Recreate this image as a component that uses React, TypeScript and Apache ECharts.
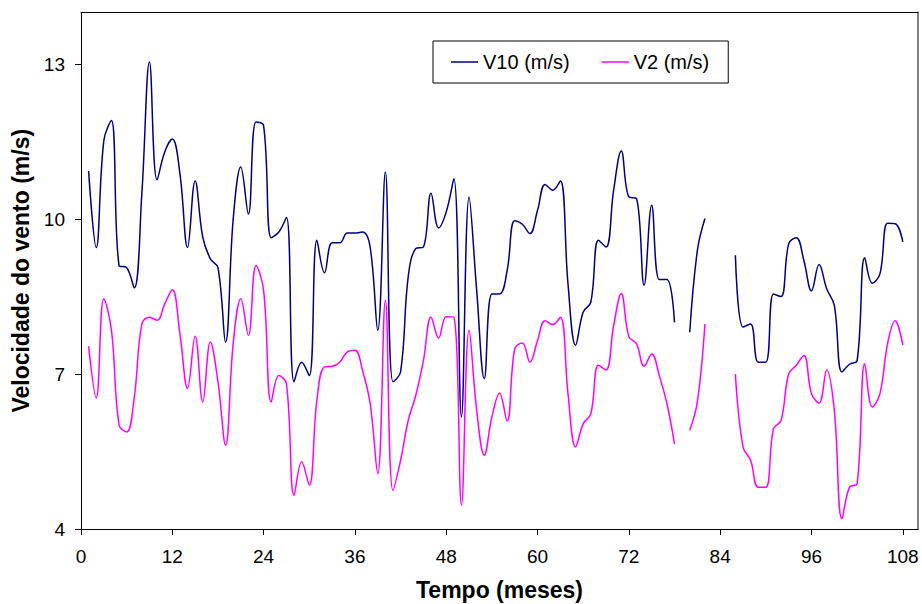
import React, { useEffect, useRef } from "react";
import * as echarts from "echarts";

const months: number[] = Array.from({ length: 108 }, (_, i) => i + 1);

const v10: (number | null)[] = [
  10.93, 9.45, 11.52, 11.91, 9.1, 9.06, 8.67, 10.5, 13.04, 10.76, 11.3, 11.55,
  10.88, 9.45, 10.74, 9.65, 9.23, 9.06, 7.62, 10.0, 11.01, 10.1, 11.88, 11.81,
  9.64, 9.75, 10.03, 6.85, 7.23, 6.97, 9.59, 8.96, 9.54, 9.54, 9.73, 9.73,
  9.75, 9.46, 7.85, 10.91, 6.85, 7.04, 8.88, 9.43, 9.46, 10.5, 9.83, 10.14,
  10.78, 6.17, 10.43, 8.62, 6.91, 8.55, 8.55, 9.0, 9.97, 9.9, 9.72, 10.17,
  10.67, 10.56, 10.74, 8.75, 7.56, 8.2, 8.39, 9.59, 9.46, 10.56, 11.32, 10.43,
  10.4, 8.72, 10.27, 8.83, 8.83, 8.0, null, 7.81, 9.39, 10.01, null, null,
  null, 9.3, 7.91, 7.97, 7.23, 7.23, 8.55, 8.5, 9.52, 9.64, 9.2, 8.61,
  9.12, 8.65, 8.33, 7.04, 7.19, 7.26, 9.25, 8.76, 8.94, 9.92, 9.91, 9.56,
];

const v2: (number | null)[] = [
  7.54, 6.54, 8.46, 7.85, 6.01, 5.88, 6.55, 7.97, 8.1, 8.04, 8.36, 8.63,
  7.78, 6.72, 7.73, 6.46, 7.62, 6.85, 5.62, 7.59, 8.46, 7.75, 9.1, 8.62,
  6.46, 6.97, 6.81, 4.65, 5.3, 4.85, 6.49, 7.14, 7.15, 7.23, 7.43, 7.46,
  7.07, 6.43, 5.07, 8.43, 4.75, 5.33, 6.1, 6.59, 7.26, 8.1, 7.7, 8.11,
  8.1, 4.46, 7.85, 6.3, 5.43, 6.17, 6.63, 6.09, 7.49, 7.6, 7.23, 7.65,
  8.03, 7.96, 8.1, 6.62, 5.59, 6.04, 6.23, 7.17, 7.08, 7.94, 8.56, 7.72,
  7.59, 7.15, 7.39, 6.97, 6.43, 5.65, null, 5.91, 6.46, 7.97, null, null,
  null, 7.0, 5.59, 5.33, 4.81, 4.81, 5.94, 6.1, 7.0, 7.17, 7.36, 6.62,
  6.44, 7.08, 6.3, 4.2, 4.81, 4.88, 7.2, 6.36, 6.62, 7.59, 8.03, 7.56,
];

const xTicks: number[] = [0, 12, 24, 36, 48, 60, 72, 84, 96, 108];
const yTicks: number[] = [4, 7, 10, 13];

const seriesNames = ["V10 (m/s)", "V2 (m/s)"];
const xTitle = "Tempo (meses)";
const yTitle = "Velocidade do vento (m/s)";

const FONT = '"Liberation Sans", Arial, sans-serif';

export default function App() {
  const ref = useRef<HTMLDivElement>(null);
  useEffect(() => {
    document.body.style.margin = "0";
    if (!ref.current) return;
    const chart = echarts.init(ref.current, undefined, { renderer: "svg" });
    const toData = (arr: (number | null)[]) =>
      months.map((m, i) => [m, arr[i] === null ? "-" : arr[i]]);
    chart.setOption({
      animation: false,
      backgroundColor: "#ffffff",
      textStyle: { fontFamily: FONT },
      grid: {
        left: 81,
        right: 4,
        top: 12.5,
        bottom: 75,
        containLabel: false,
        outerBoundsMode: "none",
      },
      legend: {
        left: 433,
        top: 41,
        orient: "horizontal",
        icon: "rect",
        itemWidth: 27,
        itemHeight: 1.5,
        itemGap: 32,
        padding: [11, 19, 11, 18],
        borderColor: "#000000",
        borderWidth: 1,
        textStyle: { fontFamily: FONT, fontSize: 20, color: "#000000" },
        data: seriesNames,
      },
      xAxis: [
        {
          type: "value",
          min: 0,
          max: 110,
          name: xTitle,
          nameLocation: "middle",
          nameGap: 49,
          nameTextStyle: {
            fontFamily: FONT,
            fontSize: 23,
            fontWeight: "bold",
            color: "#000000",
          },
          axisLine: { show: true, lineStyle: { color: "#000000", width: 1 } },
          axisTick: {
            show: true,
            length: 6,
            inside: false,
            customValues: xTicks,
            lineStyle: { color: "#000000" },
          },
          axisLabel: {
            customValues: xTicks,
            margin: 18,
            fontFamily: FONT,
            fontSize: 19,
            color: "#000000",
          },
          splitLine: { show: false },
        },
        {
          type: "value",
          position: "top",
          min: 0,
          max: 110,
          axisLine: { show: true, onZero: false, lineStyle: { color: "#000000", width: 1 } },
          axisTick: { show: false },
          axisLabel: { show: false },
          splitLine: { show: false },
        },
      ],
      yAxis: [
        {
          type: "value",
          min: 4,
          max: 14,
          name: yTitle,
          nameLocation: "middle",
          nameGap: 47,
          nameRotate: 90,
          nameTextStyle: {
            fontFamily: FONT,
            fontSize: 23,
            fontWeight: "bold",
            color: "#000000",
          },
          axisLine: { show: true, lineStyle: { color: "#000000", width: 1 } },
          axisTick: {
            show: true,
            length: 6,
            customValues: yTicks,
            lineStyle: { color: "#000000" },
          },
          axisLabel: {
            customValues: yTicks,
            margin: 16,
            fontFamily: FONT,
            fontSize: 19,
            color: "#000000",
          },
          splitLine: { show: false },
        },
        {
          type: "value",
          position: "right",
          min: 4,
          max: 14,
          axisLine: { show: true, onZero: false, lineStyle: { color: "#808080", width: 2 } },
          axisTick: { show: false },
          axisLabel: { show: false },
          splitLine: { show: false },
        },
      ],
      series: [
        {
          name: seriesNames[0],
          type: "line",
          data: toData(v10),
          smooth: 0.4,
          symbol: "none",
          connectNulls: false,
          lineStyle: { color: "#000080", width: 1.5 },
          itemStyle: { color: "#000080" },
        },
        {
          name: seriesNames[1],
          type: "line",
          data: toData(v2),
          smooth: 0.4,
          symbol: "none",
          connectNulls: false,
          lineStyle: { color: "#FF00FF", width: 1.5 },
          itemStyle: { color: "#FF00FF" },
        },
      ],
    });
    return () => chart.dispose();
  }, []);
  return <div ref={ref} style={{ width: 922, height: 604 }} />;
}
